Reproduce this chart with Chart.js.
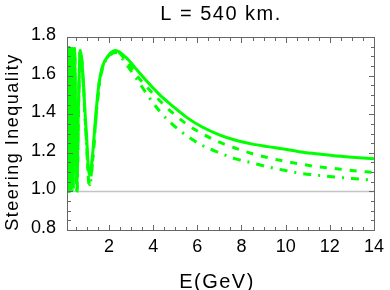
<!DOCTYPE html>
<html>
<head>
<meta charset="utf-8">
<script src="https://cdn.jsdelivr.net/npm/chart.js@4.4.1/dist/chart.umd.min.js"></script>
<style>
  html, body { margin: 0; padding: 0; background: #fff; }
</style>
</head>
<body>
<canvas id="c" width="390" height="290"></canvas>
<script>
// E (GeV) sample points, shared by the three curves
const energy = [0.100, 0.108, 0.113, 0.119, 0.126, 0.133, 0.141, 0.150, 0.161, 0.173,
  0.188, 0.205, 0.226, 0.250, 0.283, 0.320, 0.345, 0.370, 0.405, 0.440,
  0.490, 0.550, 0.620, 0.700, 0.840, 0.910, 0.990, 1.060, 1.120, 1.250,
  1.400, 1.550, 1.700, 2.000, 2.300, 2.800, 3.300, 3.800, 4.300, 4.800,
  5.500, 6.200, 7.000, 7.700, 8.500, 9.200, 10.000, 10.600, 11.500, 12.100,
  13.000, 14.000];

const solid = [1.45, 1.74, 1.03, 1.74, 1.03, 1.745, 1.03, 1.745, 1.03, 1.745,
  1.03, 1.74, 1.03, 1.74, 1.04, 1.74, 1.40, 1.04, 1.40, 1.74,
  1.40, 1.05, 1.45, 1.73, 1.57, 1.42, 1.28, 1.13, 1.085, 1.18,
  1.39, 1.56, 1.645, 1.707, 1.73, 1.69, 1.625, 1.56, 1.50, 1.45,
  1.385, 1.335, 1.293, 1.266, 1.245, 1.232, 1.218, 1.206, 1.194, 1.186,
  1.177, 1.169];

const dashed = [1.45, 1.74, 1.01, 1.74, 1.01, 1.745, 1.01, 1.745, 1.01, 1.745,
  1.01, 1.74, 1.01, 1.74, 1.01, 1.74, 1.38, 1.01, 1.38, 1.74,
  1.37, 0.995, 1.43, 1.73, 1.56, 1.40, 1.25, 1.09, 1.035, 1.15,
  1.37, 1.55, 1.64, 1.705, 1.726, 1.675, 1.595, 1.53, 1.47, 1.415,
  1.35, 1.30, 1.255, 1.225, 1.195, 1.175, 1.155, 1.143, 1.127, 1.12,
  1.108, 1.098];

const dashDot = [1.45, 1.74, 1.00, 1.74, 1.00, 1.745, 1.00, 1.745, 1.00, 1.745,
  1.00, 1.74, 1.00, 1.74, 1.00, 1.74, 1.37, 1.00, 1.37, 1.74,
  1.36, 0.99, 1.42, 1.73, 1.555, 1.39, 1.24, 1.08, 1.03, 1.14,
  1.36, 1.54, 1.635, 1.70, 1.72, 1.655, 1.575, 1.49, 1.415, 1.355,
  1.29, 1.24, 1.20, 1.17, 1.147, 1.127, 1.108, 1.095, 1.083, 1.076,
  1.067, 1.058];

const refLevel = 1.0;
const xRange = [0.1, 14];
const yRange = [0.8, 1.8];
const xTicks = [2, 4, 6, 8, 10, 12, 14];
const yTicks = [0.8, 1.0, 1.2, 1.4, 1.6, 1.8];

const GREEN = '#00ff00';
const FRAME = '#666666';
const FONT = '"Liberation Sans", Arial, sans-serif';

const pts = vals => energy.map((e, i) => ({ x: e, y: vals[i] }));

// frame with inward ticks (Mathematica style) and the text labels
const framePlugin = {
  id: 'frame',
  afterDatasetsDraw(chart) {
    const { ctx, chartArea: a, scales: { x, y } } = chart;
    ctx.save();
    ctx.strokeStyle = FRAME;
    ctx.lineWidth = 1;
    ctx.strokeRect(a.left + 0.5, a.top + 0.5, a.right - a.left, a.bottom - a.top);
    ctx.beginPath();
    for (let i = 1; i < 28; i++) {
      const len = i % 4 === 0 ? 5 : 3;
      const px = Math.round(x.getPixelForValue(i * 0.5)) + 0.5;
      ctx.moveTo(px, a.bottom); ctx.lineTo(px, a.bottom - len);
      ctx.moveTo(px, a.top + 1); ctx.lineTo(px, a.top + 1 + len);
    }
    for (let i = 1; i < 20; i++) {
      const len = i % 4 === 0 ? 5 : 3;
      const py = Math.round(y.getPixelForValue(0.8 + i * 0.05)) + 0.5;
      ctx.moveTo(a.left + 1, py); ctx.lineTo(a.left + 1 + len, py);
      ctx.moveTo(a.right, py); ctx.lineTo(a.right - len, py);
    }
    ctx.stroke();

    ctx.fillStyle = '#000';
    ctx.textAlign = 'center';
    ctx.textBaseline = 'alphabetic';
    ctx.letterSpacing = '1.5px';
    ctx.font = '20px ' + FONT;
    ctx.fillText('L = 540 km.', 221, 19.5);
    ctx.font = '20px ' + FONT;
    ctx.fillText('E(GeV)', 217, 287.5);
    ctx.translate(17.5, 142);
    ctx.rotate(-Math.PI / 2);
    ctx.font = '18px ' + FONT;
    ctx.fillText('Steering Inequality', 0, 0);
    ctx.restore();
  }
};

new Chart(document.getElementById('c'), {
  type: 'line',
  data: {
    datasets: [
      { data: pts(solid), borderColor: GREEN, borderWidth: 3 },
      { data: pts(dashed), borderColor: GREEN, borderWidth: 3, borderDash: [7, 8] },
      { data: pts(dashDot), borderColor: GREEN, borderWidth: 3, borderDash: [8, 7, 2, 7] },
      { data: xRange.map(e => ({ x: e, y: refLevel })), borderColor: '#c4c4c4', borderWidth: 1.5, tension: 0 }
    ]
  },
  options: {
    responsive: false,
    devicePixelRatio: 1,
    animation: false,
    layout: { padding: { top: 37, right: 12, left: 0, bottom: 0 } },
    elements: {
      point: { radius: 0 },
      line: { cubicInterpolationMode: 'monotone', borderCapStyle: 'butt' }
    },
    plugins: { legend: { display: false }, tooltip: { enabled: false } },
    scales: {
      x: {
        type: 'linear',
        min: xRange[0], max: xRange[1],
        afterBuildTicks: s => { s.ticks = xTicks.map(v => ({ value: v })); },
        afterFit: s => { s.height = 60; },
        grid: { display: false, drawTicks: false },
        border: { display: false },
        ticks: { color: '#000', font: { family: FONT, size: 18 }, padding: 6, maxRotation: 0,
          callback: v => String(v) }
      },
      y: {
        type: 'linear',
        min: yRange[0], max: yRange[1],
        afterBuildTicks: s => { s.ticks = yTicks.map(v => ({ value: v })); },
        afterFit: s => { s.width = 67; },
        grid: { display: false, drawTicks: false },
        border: { display: false },
        ticks: { color: '#000', font: { family: FONT, size: 18 }, padding: 11, labelOffset: -2,
          callback: v => v.toFixed(1) }
      }
    }
  },
  plugins: [framePlugin]
});
</script>
</body>
</html>
